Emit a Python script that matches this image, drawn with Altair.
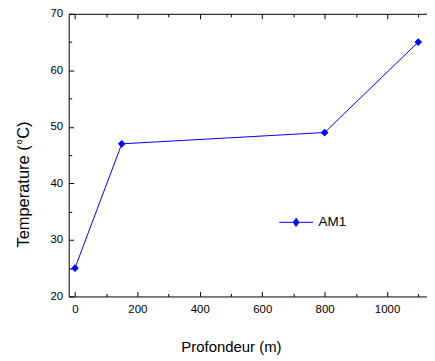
import altair as alt
import pandas as pd

depth = [0, 150, 800, 1100]
temp = [25, 47, 49, 65]
series = ["AM1", "AM1", "AM1", "AM1"]

x_major = [0, 200, 400, 600, 800, 1000]
x_minor = [100, 300, 500, 700, 900, 1100]
y_major = [20, 30, 40, 50, 60, 70]
y_minor = [25, 35, 45, 55, 65]

df = pd.DataFrame({"depth": depth, "temp": temp, "series": series})

BLUE = "#0000ff"
FONT = "Liberation Sans"
XDOM = [-20, 1128]
YDOM = [20, 70]

xs = alt.Scale(domain=XDOM, nice=False, zero=False)
ys = alt.Scale(domain=YDOM, nice=False, zero=False)

def xaxis(orient, values, size, labels, domain, title=None):
    kw = dict(orient=orient, values=values, tickSize=alt.ExprRef(expr=str(-size)),
              labels=labels, domain=domain, grid=False, tickColor="black",
              domainColor="black", tickWidth=1, domainWidth=1, format="d",
              labelFont=FONT, labelFontSize=11.5, labelColor="black", labelPadding=12)
    if title:
        kw.update(title=title, titleFont=FONT, titleFontSize=15,
                  titleFontWeight="normal", titleColor="black",
                  titleX=163, titleY=55, titleAnchor="middle", titleBaseline="alphabetic")
    else:
        kw.update(title=None)
    return alt.Axis(**kw)

def yaxis(values, size, labels, domain, title=None):
    kw = dict(orient="left", values=values, tickSize=alt.ExprRef(expr=str(-size)),
              labels=labels, domain=domain, grid=False, tickColor="black",
              domainColor="black", tickWidth=1, domainWidth=1,
              labelFont=FONT, labelFontSize=11.5, labelColor="black", labelPadding=11)
    if title:
        kw.update(title=title, titleFont=FONT, titleFontSize=16.5,
                  titleFontWeight="normal", titleColor="black", titleAngle=270,
                  titleX=-40, titleY=171, titleAlign="center", titleBaseline="alphabetic")
    else:
        kw.update(title=None)
    return alt.Axis(**kw)

base = alt.Chart(df)

line = base.mark_line(strokeWidth=1).encode(
    x=alt.X("depth:Q", scale=xs, axis=xaxis("bottom", x_major, 5, True, True, "Profondeur (m)")),
    y=alt.Y("temp:Q", scale=ys, axis=yaxis(y_major, 5, True, True, "Temperature (°C)")),
    color=alt.Color("series:N", scale=alt.Scale(range=[BLUE]),
                    legend=alt.Legend(orient="none", legendX=211, legendY=192, title=None,
                                      symbolType="M-1,0L1,0M-0.17,0L0,-0.24L0.17,0L0,0.24Z",
                                      symbolSize=1156, symbolStrokeWidth=1,
                                      symbolFillColor=BLUE, symbolStrokeColor=BLUE,
                                      labelFont=FONT, labelFontSize=13.5,
                                      labelColor="black", labelOffset=5, padding=0)),
)

points = base.mark_point(shape="diamond", filled=True, size=60, opacity=1).encode(
    x=alt.X("depth:Q", scale=xs, axis=xaxis("bottom", x_minor, 3, False, False)),
    y=alt.Y("temp:Q", scale=ys, axis=yaxis(y_minor, 3, False, False)),
    color=alt.value(BLUE),
)

top_major = base.mark_point(opacity=0).encode(
    x=alt.X("depth:Q", scale=xs, axis=xaxis("top", x_major, 5, False, True)),
    y=alt.Y("temp:Q", scale=ys, axis=None),
)

top_minor = base.mark_point(opacity=0).encode(
    x=alt.X("depth:Q", scale=xs, axis=xaxis("top", x_minor, 3, False, False)),
    y=alt.Y("temp:Q", scale=ys, axis=None),
)

chart = alt.layer(line, points, top_major, top_minor).resolve_axis(
    x="independent", y="independent"
).properties(
    width=360, height=284,
    autosize=alt.AutoSizeParams(type="none"),
    padding={"left": 61, "top": 5, "right": 0, "bottom": 62},
    background="white",
).configure_view(stroke=None)

chart.save("out.html", embed_options={"renderer": "svg", "actions": False})
